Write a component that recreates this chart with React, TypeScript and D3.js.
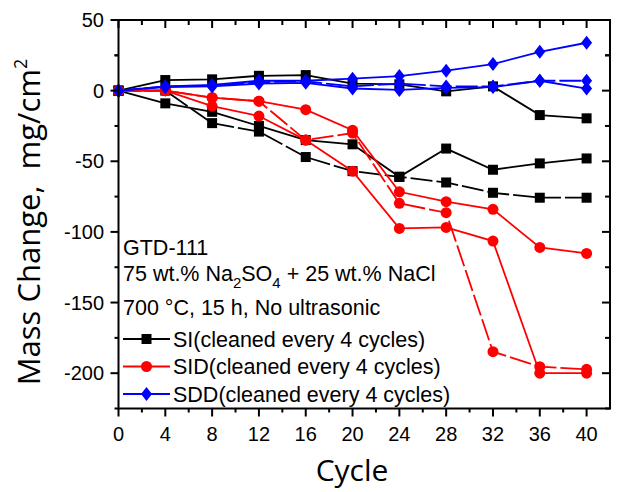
import * as d3 from "d3";
import React from "react";

// cycle numbers (x)
const cycles = [0, 4, 8, 12, 16, 20, 24, 28, 32, 36, 40];

// SI runs (black)
const si1 = [0, 7.5, 8, 10.5, 11, 5, 4.5, -0.5, 3, -17.3, -19.6];
const si2 = [0, -9, -15, -25, -35, -38, -61, -41, -56, -51.5, -48];
const si3 = [0, 0, -23, -29, -47, -57, -61, -65, -72.3, -75.8, -75.8];

// SID runs (red)
const sid1 = [0, 0, -5, -7.5, -13.5, -28, -71.6, -78.6, -84, -111, -115.2];
const sid2 = [0, 0, -5, -7.5, -35, -30, -79.8, -86.4, -184.8, -195.4, -197.3];
const sid3 = [0, 0, -11, -18, -35, -57, -97.5, -96.8, -106.5, -200, -200];

// SDD runs (blue)
const sdd1 = [0, 3, 4, 7, 7, 8.5, 10.3, 14.1, 18.8, 27.5, 33.9];
const sdd2 = [0, 3, 3.5, 6, 6.5, 3, 5, 3, 3, 7, 7];
const sdd3 = [0, 2.5, 3, 5, 5.5, 1.5, 0.5, 2, 2.5, 7, 1.5];

const xTicks = [0, 4, 8, 12, 16, 20, 24, 28, 32, 36, 40];
const yTicks = [50, 0, -50, -100, -150, -200];

const legendLabels = [
  "SI(cleaned every 4 cycles)",
  "SID(cleaned every 4 cycles)",
  "SDD(cleaned every 4 cycles)",
];

type Marker = "square" | "circle" | "diamond";

const dash = "22,4";

const groups: { color: string; marker: Marker; runs: { values: number[]; dash?: string }[] }[] = [
  { color: "#000000", marker: "square", runs: [{ values: si1 }, { values: si2 }, { values: si3, dash }] },
  { color: "#ff0000", marker: "circle", runs: [{ values: sid1 }, { values: sid2, dash }, { values: sid3 }] },
  { color: "#0000ff", marker: "diamond", runs: [{ values: sdd1 }, { values: sdd2, dash }, { values: sdd3 }] },
];

const W = 621;
const H = 492;
const left = 118.5;
const right = 610;
const top = 20;
const bottom = 408.5;

const sans = "'Liberation Sans', Arial, sans-serif";
const titleFont = "'Open Sans', 'Noto Sans', sans-serif";

function MarkerShape({ type, x, y, color }: { type: Marker; x: number; y: number; color: string }) {
  if (type === "square") return <rect x={x - 5} y={y - 5} width={10} height={10} fill={color} />;
  if (type === "circle") return <circle cx={x} cy={y} r={5.5} fill={color} />;
  return <path d={`M${x},${y - 7}L${x + 5.5},${y}L${x},${y + 7}L${x - 5.5},${y}Z`} fill={color} />;
}

export default function App() {
  const x = d3.scaleLinear().domain([0, 42]).range([left, right]);
  const y = d3.scaleLinear().domain([-225, 50]).range([bottom, top]);
  const line = d3
    .line<number>()
    .x((_, i) => x(cycles[i]))
    .y((d) => y(d));

  const xMinor = d3.range(2, 42, 4);
  const yMinor = d3.range(-225, 50, 50).concat([25]);

  return (
    <svg width={W} height={H} style={{ position: "absolute", left: 0, top: 0, background: "#fff" }}>
      {/* series */}
      {groups.map((g, gi) => (
        <g key={gi}>
          {g.runs.map((r, ri) => (
            <g key={ri}>
              <path d={line(r.values) ?? ""} fill="none" stroke={g.color} strokeWidth={1.8} strokeDasharray={r.dash} />
              {r.values.map((v, i) => (
                <MarkerShape key={i} type={g.marker} x={x(cycles[i])} y={y(v)} color={g.color} />
              ))}
            </g>
          ))}
        </g>
      ))}

      {/* frame */}
      <rect x={left} y={top} width={right - left} height={bottom - top} fill="none" stroke="#000" strokeWidth={2} />

      {/* x ticks */}
      {xTicks.map((t) => (
        <g key={"x" + t}>
          <line x1={x(t)} x2={x(t)} y1={bottom} y2={bottom + 8} stroke="#000" strokeWidth={2} />
          <line x1={x(t)} x2={x(t)} y1={top} y2={top + 8} stroke="#000" strokeWidth={2} />
          <text x={x(t)} y={441} textAnchor="middle" fontFamily={sans} fontSize={20}>
            {t}
          </text>
        </g>
      ))}
      {xMinor.map((t) => (
        <g key={"xm" + t}>
          <line x1={x(t)} x2={x(t)} y1={bottom} y2={bottom + 4} stroke="#000" strokeWidth={2} />
          <line x1={x(t)} x2={x(t)} y1={top} y2={top + 5} stroke="#000" strokeWidth={2} />
        </g>
      ))}

      {/* y ticks */}
      {yTicks.map((t) => (
        <g key={"y" + t}>
          <line x1={left - 8} x2={left} y1={y(t)} y2={y(t)} stroke="#000" strokeWidth={2} />
          <line x1={right - 8} x2={right} y1={y(t)} y2={y(t)} stroke="#000" strokeWidth={2} />
          <text x={104} y={y(t) + 7} textAnchor="end" fontFamily={sans} fontSize={20}>
            {t}
          </text>
        </g>
      ))}
      {yMinor.map((t) => (
        <g key={"ym" + t}>
          <line x1={left - 4} x2={left} y1={y(t)} y2={y(t)} stroke="#000" strokeWidth={2} />
          <line x1={right - 5} x2={right} y1={y(t)} y2={y(t)} stroke="#000" strokeWidth={2} />
        </g>
      ))}

      {/* axis titles */}
      <text x={352} y={481} textAnchor="middle" fontFamily={titleFont} fontSize={30}>
        Cycle
      </text>
      <text transform="translate(40,222) rotate(-90)" textAnchor="middle" fontFamily={titleFont} fontSize={31}>
        Mass Change,{"\u00a0\u00a0"}mg/cm
        <tspan fontSize={18} dy={-13}>
          2
        </tspan>
      </text>

      {/* annotation */}
      <g fontFamily={sans} fontSize={21.5}>
        <text x={123} y={255}>
          GTD-111
        </text>
        <text x={123} y={281}>
          75 wt.% Na
          <tspan fontSize={15} dy={7}>
            2
          </tspan>
          <tspan dy={-7}>SO</tspan>
          <tspan fontSize={15} dy={7}>
            4
          </tspan>
          <tspan dy={-7}> + 25 wt.% NaCl</tspan>
        </text>
        <text x={123} y={315}>
          700 °C, 15 h, No ultrasonic
        </text>
      </g>

      {/* legend */}
      {groups.map((g, i) => {
        const ly = 339 + i * 27.5;
        return (
          <g key={"lg" + i}>
            <line x1={123} x2={170} y1={ly} y2={ly} stroke={g.color} strokeWidth={1.8} />
            <MarkerShape type={g.marker} x={146.5} y={ly} color={g.color} />
            <text x={173} y={ly + 7.5} fontFamily={sans} fontSize={21.5}>
              {legendLabels[i]}
            </text>
          </g>
        );
      })}
    </svg>
  );
}
